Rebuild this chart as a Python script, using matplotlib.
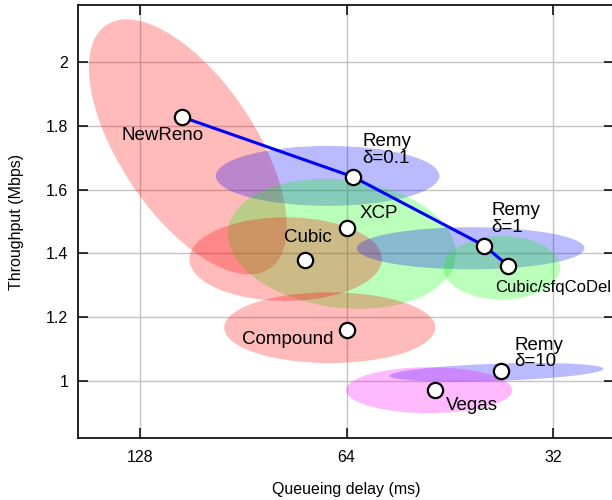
import numpy as np
import matplotlib
matplotlib.use('Agg')
import matplotlib.pyplot as plt
from matplotlib.patches import Ellipse

plt.rcParams['font.family'] = ['Liberation Sans', 'DejaVu Sans']

# punkter (median forsinkelse / gjennomstrømning)
names = ['NewReno', 'Remy\nδ=0.1', 'XCP', 'Cubic', 'Compound',
         'Remy\nδ=1', 'Cubic/sfqCoDel', 'Remy\nδ=10', 'Vegas']
delay_ms = [111.2, 62.6, 63.9, 73.6, 64.0, 40.3, 37.2, 38.1, 47.5]
tput = [1.828, 1.640, 1.480, 1.380, 1.160, 1.424, 1.361, 1.031, 0.972]

# ellipser: senter, halvakser (log2-enheter / Mbps) og korrelasjon
ell_delay = [109.0, 68.2, 65.0, 78.5, 67.7, 42.2, 38.0, 38.7, 48.5]
ell_tput = [1.734, 1.643, 1.430, 1.382, 1.167, 1.416, 1.355, 1.027, 0.971]
ell_sx = [0.479, 0.541, 0.552, 0.466, 0.511, 0.551, 0.282, 0.518, 0.402]
ell_sy = [0.400, 0.094, 0.204, 0.131, 0.111, 0.066, 0.100, 0.029, 0.072]
ell_rho = [0.62, 0.0, 0.15, 0.0, 0.0, 0.0, 0.0, -0.38, 0.0]
ell_color = ['red', 'blue', 'lime', 'red', 'red', 'blue', 'lime', 'blue', 'magenta']

# Remy-fronten
frontier = [0, 1, 5, 6]

# tekstforskyvning (punkter) og justering
label_off = [(-13.7, -13.7), (6.5, 19.4), (9.4, 10.1), (2.4, 15.8), (-9.1, -7.2),
             (5.0, 19.3), (-9.6, -15.6), (9.4, 12.5), (7.7, -11.3)]
label_ha = ['center', 'left', 'left', 'center', 'right', 'left', 'left', 'left', 'left']
label_size = [13.5, 13.5, 13.5, 13.5, 13.5, 13.5, 12, 13.5, 13.5]

x_ticks = [128, 64, 32]
y_ticks = [1, 1.2, 1.4, 1.6, 1.8, 2]

fig = plt.figure(figsize=(6.12, 5.0), dpi=100)
ax = fig.add_axes([78 / 612, 62 / 500, 536 / 612, 433 / 500])

lx = np.log2(delay_ms)

for i in range(len(ell_delay)):
    sx, sy, r = ell_sx[i], ell_sy[i], ell_rho[i]
    cov = np.array([[sx * sx, r * sx * sy], [r * sx * sy, sy * sy]])
    vals, vecs = np.linalg.eigh(cov)
    ang = np.degrees(np.arctan2(vecs[1, 1], vecs[0, 1]))
    e = Ellipse((np.log2(ell_delay[i]), ell_tput[i]), 2 * np.sqrt(vals[1]), 2 * np.sqrt(vals[0]),
                angle=ang, facecolor=ell_color[i], alpha=0.27, edgecolor='none', zorder=1)
    ax.add_patch(e)

ax.plot(lx[frontier], np.array(tput)[frontier], color='blue', lw=2.2, zorder=3)
ax.plot(lx, tput, 'o', ms=11, mfc='white', mec='black', mew=1.6, zorder=4)

for i, name in enumerate(names):
    ax.annotate(name, (lx[i], tput[i]), xytext=label_off[i], textcoords='offset points',
                ha=label_ha[i], va='center', fontsize=label_size[i], linespacing=0.95, zorder=5)

ax.set_xlim(7.300, 4.705)
ax.set_ylim(0.821, 2.179)
ax.set_xticks(np.log2(x_ticks))
ax.set_xticklabels([str(t) for t in x_ticks])
ax.set_yticks(y_ticks)
ax.set_yticklabels(['1', '1.2', '1.4', '1.6', '1.8', '2'])
ax.grid(True, color='#c4c4c4', lw=1)
ax.set_axisbelow(True)
ax.tick_params(direction='in', length=7, width=1.1, top=True, right=True, labelsize=11.5)
ax.tick_params(axis='x', pad=9)
ax.tick_params(axis='y', pad=7)
for s in ax.spines.values():
    s.set_linewidth(1.2)

ax.set_xlabel('Queueing delay (ms)', fontsize=11.5, labelpad=12)
ax.set_ylabel('Throughput (Mbps)', fontsize=11.5, labelpad=16)

fig.savefig('out.png', dpi=100)
